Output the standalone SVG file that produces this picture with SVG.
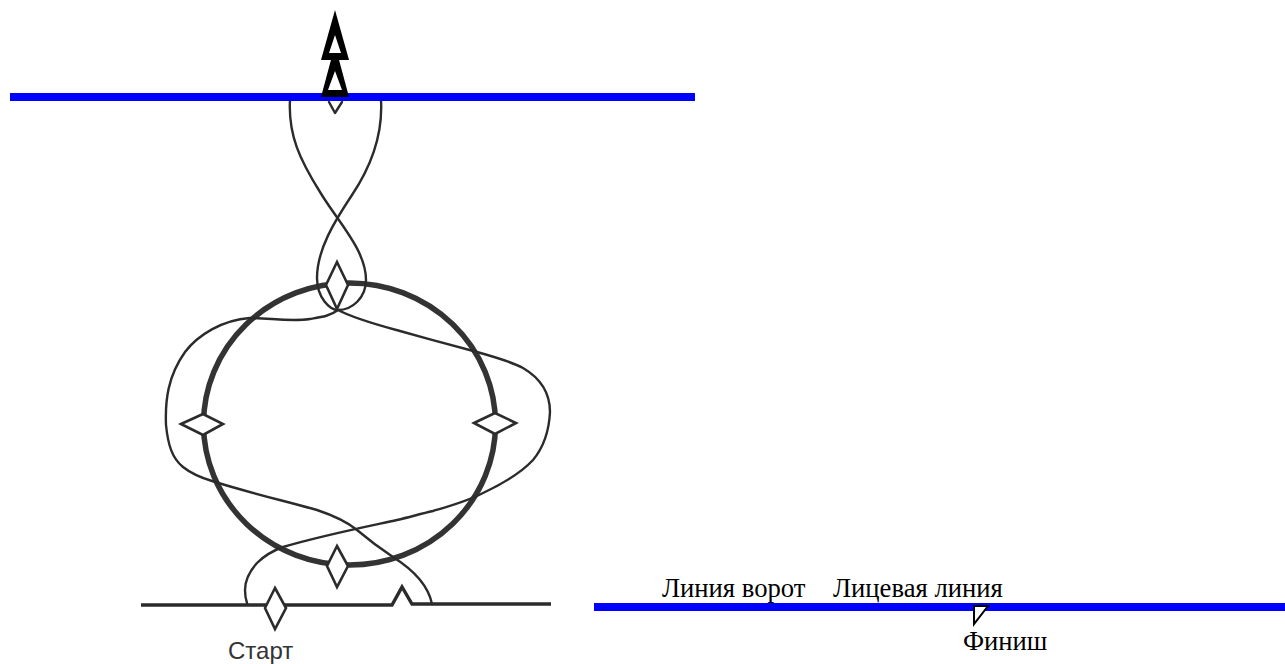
<svg xmlns="http://www.w3.org/2000/svg" width="1285" height="664" viewBox="0 0 1285 664">
<style>
.t{fill:none;stroke:#2b2b2b;stroke-width:2.4;stroke-linecap:round;stroke-linejoin:round}
.base{fill:none;stroke:#2b2b2b;stroke-width:3.4;stroke-linejoin:miter}
.ring{fill:none;stroke:#333;stroke-width:5.5}
.d{fill:#fff;stroke:#2b2b2b;stroke-width:2.6;stroke-linejoin:miter}
.blue{fill:none;stroke:#0000ff;stroke-width:8}
.ts{font-family:"Liberation Serif","Times New Roman",serif;font-size:26.67px;fill:#000}
</style>
<rect width="1285" height="664" fill="#fff"/>
<g id="connectors">
<ellipse class="ring" cx="349.5" cy="424" rx="146" ry="141"/>
<path class="t" d="M290 100C288 135 300 160 320 192C338 222 366 250 366 280C366 298 352 310 338 310C330 316 322 317 310 319C290 322 270 318 250 318C222 320 198 335 185 352C168 376 165 400 166 425C168 445 172 458 183 467C193 475 202 478 212 481C250 493 285 501 317 510C332 515 346 521 357 530C370 541 381 549 393 557C412 569 428 584 432 604"/>
<path class="t" d="M381 100C383 135 372 165 352 195C334 222 317 250 317 278C317 298 330 310 338 310C355 319 378 325 400 331C425 338 455 346 477 352C495 357 512 362 523 368C540 378 550 392 550 412C549 432 543 448 533 460C520 474 502 484 483 493C468 501 450 506 433 511C420 514 410 517 397 520C360 528 320 536 283 547C272 551 264 556 257 563C249 572 245 582 245 590C245 595 246 600 247 603"/>
<path class="base" d="M141 605H392L402 587L412 604H551"/>
</g>
<g id="blue-lines">
<path class="blue" d="M10 97H695"/>
<path class="blue" d="M594 607H1285"/>
</g>
<g id="node-top-gate"><path d="M328 101L335 113L343 101Z" fill="#fff"/><path class="t" d="M329 102L335 113L342 102"/></g>
<g id="node-north"><path class="d" d="M337 262L348 285L337 309L326 285Z"/></g>
<g id="node-west"><path class="d" d="M181 424L203 414L223 424L203 435Z"/></g>
<g id="node-east"><path class="d" d="M474 423L495 413L516 423L495 434Z"/></g>
<g id="node-south"><path class="d" d="M337 546L348 566L337 587L327 566Z"/></g>
<g id="node-start"><path class="d" d="M275 588L286 608L275 629L265 608Z"/></g>
<g id="node-arrows">
<path d="M335 45L321 97H349Z" fill="#000"/>
<path d="M335 71L328 90H342Z" fill="#fff"/>
<path d="M335 10L321 60H349Z" fill="#000"/>
<path d="M335 35L329 53H341Z" fill="#fff"/>
</g>
<g id="node-finish"><path d="M974 606H988L974 624Z" fill="#fff" stroke="#000" stroke-width="2"/></g>
<g id="labels">
<text class="ts" x="662" y="597">Линия ворот</text>
<text class="ts" x="833" y="597">Лицевая линия</text>
<text class="ts" x="963" y="650">Финиш</text>
<text x="228" y="659" font-family="Liberation Sans,Arial,sans-serif" font-size="24" fill="#333">Старт</text>
</g>
</svg>
